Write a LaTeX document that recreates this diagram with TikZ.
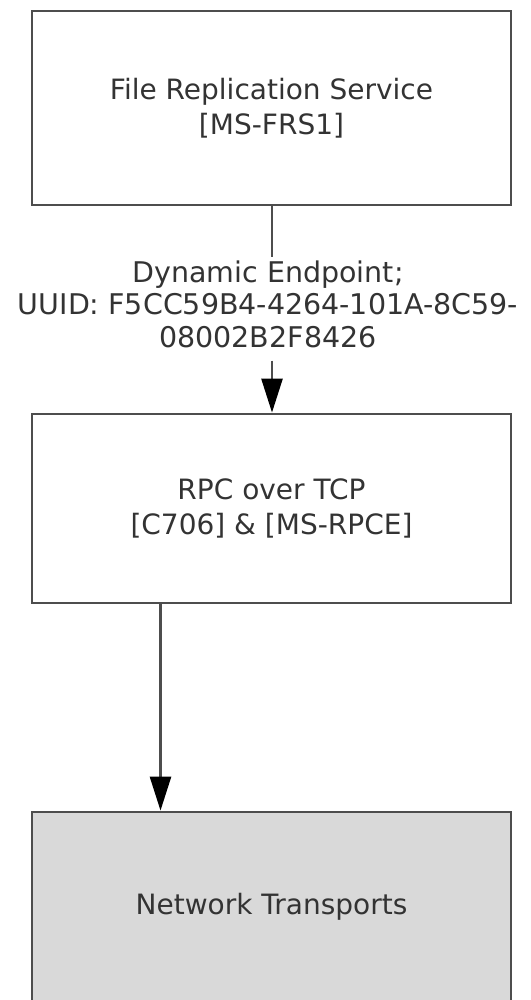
\documentclass[tikz,border=0pt]{standalone}
\usepackage{fontspec}
\setmainfont{DejaVu Sans}
\usetikzlibrary{arrows.meta}
\definecolor{txt}{HTML}{333333}
\definecolor{edge}{HTML}{4D4D4D}
\definecolor{boxgray}{HTML}{D9D9D9}
\tikzset{
  blk/.style={draw=edge, line width=2.8pt, rectangle, minimum width=479pt, text=txt,
    align=center, font=\fontsize{28}{35}\selectfont, inner sep=0pt},
  conn/.style={draw=edge, line width=2.6pt},
  tip/.style={-{Triangle[length=34pt,width=21pt,color=black]}},
  lbl/.style={text=txt, align=center, font=\fontsize{28.5}{32.5}\selectfont, inner sep=3pt}
}
\begin{document}
\begin{tikzpicture}[x=1pt,y=-1pt]
\useasboundingbox (0,0) rectangle (530,1000);
\node[blk, minimum height=194pt] (frs) at (271.5,108) {File Replication Service\\{}[MS-FRS1]};
\node[blk, minimum height=189pt] (rpc) at (271.5,508.5) {RPC over TCP\\{}[C706] \& [MS-RPCE]};
\node[blk, minimum height=190pt, fill=boxgray] (net) at (271.5,907) {Network Transports};
\node[lbl] (ep) at (268,304) {Dynamic Endpoint;\\UUID: F5CC59B4-4264-101A-8C59-\\08002B2F8426};
\coordinate (a1) at (272,205);
\draw[conn] (frs.south -| a1) -- (ep.north -| a1);
\draw[conn, tip] ([yshift=-10pt]ep.south -| a1) -- (rpc.north -| a1);
\coordinate (a2) at (160.5,603);
\draw[conn, tip] (rpc.south -| a2) -- (net.north -| a2);
\end{tikzpicture}
\end{document}
